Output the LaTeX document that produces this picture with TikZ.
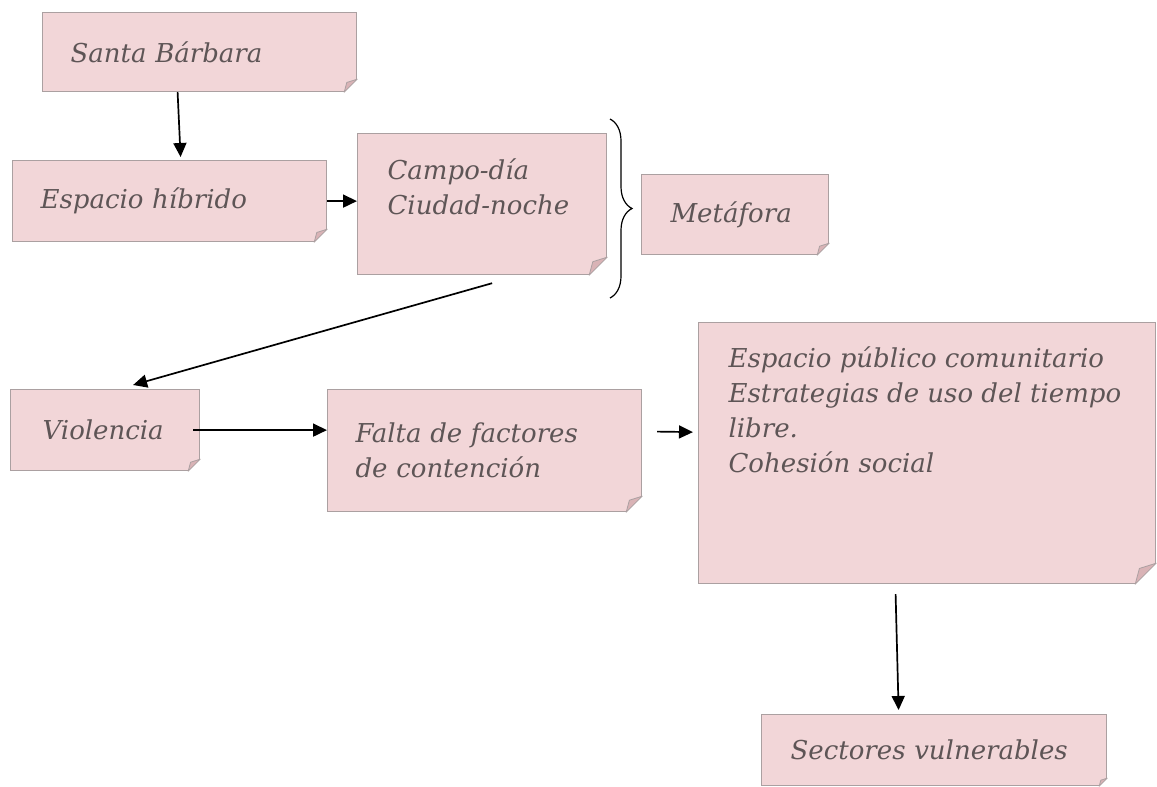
\documentclass[tikz,border=0pt]{standalone}
\usepackage{fontspec}
\setmainfont{DejaVu Serif}
\usepackage{xcolor}
\usepackage{tikz}
\usetikzlibrary{arrows.meta,decorations.pathreplacing}
\hyphenpenalty=10000
\definecolor{paper}{HTML}{F2D6D8}
\definecolor{edge}{HTML}{ABA0A1}
\definecolor{ink}{HTML}{5E5556}
\definecolor{curl}{HTML}{D9B3B6}
\tikzset{
  note/.style={draw=edge, fill=paper, line width=0.6pt, text=ink, anchor=north west,
    inner xsep=14pt, inner ysep=0pt, font=\fontsize{13}{17.5}\selectfont\itshape},
  flow/.style={draw=black, line width=0.85pt, -{Triangle[length=7pt,width=6.5pt]}},
  brk/.style={draw=black, line width=0.6pt, decorate, decoration={brace, amplitude=11pt}},
  flap/.style={fill=curl, draw=edge, line width=0.4pt, line join=round},
}
\begin{document}
\begin{tikzpicture}[x=0.5pt, y=-0.5pt]
  \useasboundingbox (0,0) rectangle (1157,787);
  % boxes
  \node[note, align=left, text width=129pt, minimum height=39.5pt] (sb) at (42,12) {Santa Bárbara};
  \node[note, align=left, text width=129pt, minimum height=40.5pt] (eh) at (12,160) {Espacio híbrido};
  \node[note, inner xsep=15pt, inner ysep=12.5pt] (cd) at (357,133)
    {\parbox[c][45.5pt][t]{94.5pt}{Campo-día\\Ciudad-noche}};
  \node[note, align=left, inner xsep=14.5pt, text width=64.5pt, minimum height=40pt] (mt) at (641,174) {Metáfora};
  \node[note, align=left, inner xsep=16pt, text width=62.5pt, minimum height=40.5pt] (vi) at (10,389) {Violencia};
  \node[note, align=left, text width=129pt, minimum height=61pt] (ff) at (327,389) {Falta de factores\\de contención};
  \node[note, inner xsep=15pt, inner ysep=12pt] (pc) at (698,322)
    {\parbox[c][106.5pt][t]{198.5pt}{Espacio público comunitario\\Estrategias de uso del tiempo\\libre.\\Cohesión social}};
  \node[note, align=left, inner xsep=14.5pt, text width=143.5pt, minimum height=35.5pt] (sv) at (761,714) {Sectores vulnerables};
  % folded corners
  \foreach \n/\f in {sb/6.5pt, eh/6.5pt, cd/9pt, mt/6pt, vi/6pt, ff/8pt, pc/10.5pt, sv/4pt} {
    \fill[white] ([shift={(-\f,-1pt)}]\n.south east) -- ([xshift=-\f]\n.south east) -- ([yshift=\f]\n.south east)
      -- ([shift={(1pt,\f)}]\n.south east) -- ([shift={(1pt,-1pt)}]\n.south east) -- cycle;
    \draw[flap] ([xshift=-\f]\n.south east) -- ([yshift=\f]\n.south east)
      -- ([shift={(-0.8*\f,0.75*\f)}]\n.south east) -- cycle;
  }
  % connectors
  \draw[flow] ([xshift=-11pt]sb.south) -- ([shift={(5.5pt,1.5pt)}]eh.north);
  \draw[flow] (eh.east) -- (eh.east -| cd.west);
  \draw[flow] ([shift={(5pt,-4pt)}]cd.south) -- ([shift={(14pt,2pt)}]vi.north);
  \draw[flow] ([xshift=-3.5pt]vi.east) -- (vi.east -| ff.west);
  \draw[flow] ([shift={(7.5pt,9.5pt)}]ff.east) -- ([shift={(-2.5pt,10.5pt)}]pc.west);
  \draw[flow] ([shift={(-15.75pt,-5pt)}]pc.south) -- ([shift={(-17.75pt,2pt)}]sv.north);
  % brace
  \coordinate (bt) at (610,119);
  \coordinate (bb) at (610,298);
  \draw[brk] (bt) -- (bb);
\end{tikzpicture}
\end{document}
